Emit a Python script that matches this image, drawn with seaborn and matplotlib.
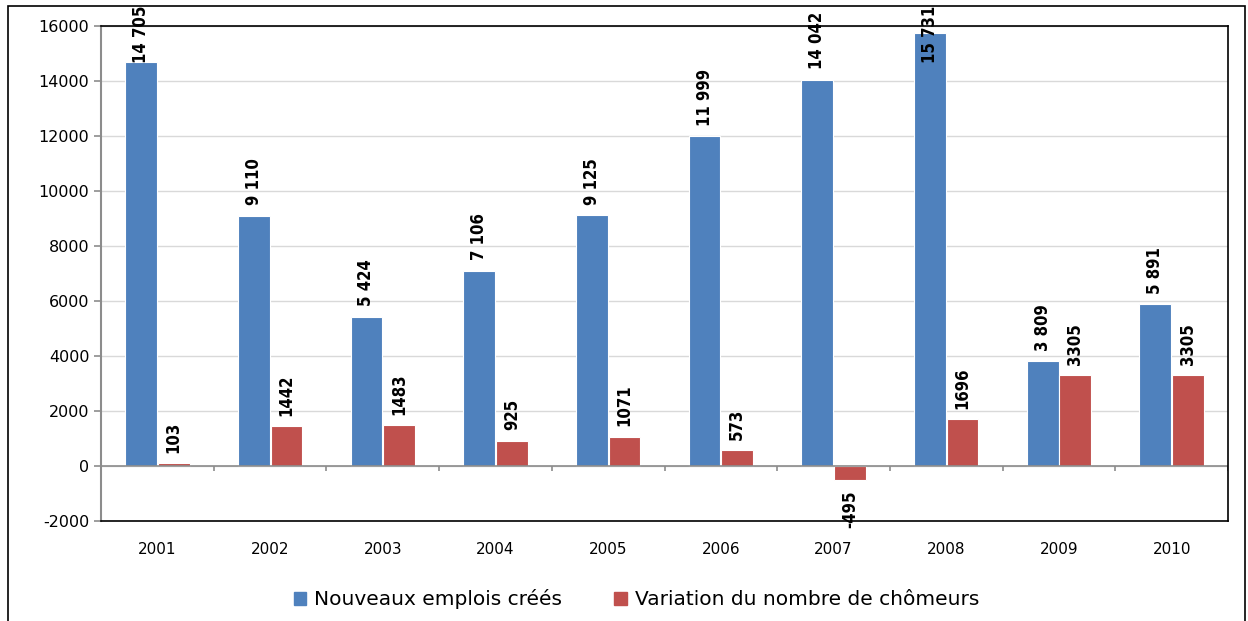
import matplotlib
matplotlib.use("Agg")
import matplotlib.pyplot as plt
import matplotlib.patches as mpatches
import seaborn as sns
import pandas as pd
import numpy as np

annees = ['2001', '2002', '2003', '2004', '2005', '2006', '2007', '2008', '2009', '2010']
emplois = [14705, 9110, 5424, 7106, 9125, 11999, 14042, 15731, 3809, 5891]
chomeurs = [103, 1442, 1483, 925, 1071, 573, -495, 1696, 3305, 3305]
series = ['Nouveaux emplois créés', 'Variation du nombre de chômeurs']
couleurs = ['#4F81BD', '#C0504D']

df = pd.DataFrame({
    'annee': annees * 2,
    'valeur': emplois + chomeurs,
    'serie': [series[0]] * len(annees) + [series[1]] * len(annees),
})

sns.set_style("white")
plt.rcParams['font.family'] = ['DejaVu Sans']
plt.rcParams['axes.unicode_minus'] = False

fig = plt.figure(figsize=(12.48, 6.21), dpi=100)
ax = fig.add_axes([0.081, 0.161, 0.903, 0.797])

sns.barplot(data=df, x='annee', y='valeur', hue='serie', palette=couleurs,
            width=0.58, gap=0.03, ax=ax, edgecolor='white', linewidth=0.8,
            saturation=1, legend=False)

ax.set_ylim(-2000, 16000)
ax.set_yticks(range(-2000, 16001, 2000))
ax.set_xlim(-0.5, len(annees) - 0.5)
ax.yaxis.grid(True, color='#d9d9d9', linewidth=1)
ax.set_axisbelow(True)
ax.axhline(0, color='#8c8c8c', linewidth=1.2, zorder=1)
ax.vlines(np.arange(-0.5, len(annees)), -180, 0, color='#8c8c8c', linewidth=1.2)

for side in ['top', 'right', 'bottom']:
    ax.spines[side].set_color('black')
    ax.spines[side].set_linewidth(1.2)
ax.spines['left'].set_color('#8c8c8c')
ax.spines['left'].set_linewidth(1.5)

ax.tick_params(axis='x', length=0, pad=15, labelsize=11, labelcolor='black')
ax.tick_params(axis='y', length=5, width=1.2, color='#8c8c8c', direction='out',
               labelsize=11.5, labelcolor='black', left=True)
ax.set_xlabel('')
ax.set_ylabel('')

# étiquettes de données
lab_font = dict(family='DejaVu Sans', fontstretch='condensed', fontweight='bold',
                fontsize=12, rotation=90, color='black')
for cont, vals, sep in zip(ax.containers, [emplois, chomeurs], [True, False]):
    for bar, v in zip(cont, vals):
        x = bar.get_x() + bar.get_width() / 2
        txt = f'{v:,}'.replace(',', ' ') if sep else str(v)
        if v >= 0:
            ax.text(x, min(v + 380, 14650), txt, ha='center', va='bottom', clip_on=False, **lab_font)
        else:
            ax.text(x, v - 400, txt, ha='center', va='top', clip_on=False, **lab_font)

handles = [mpatches.Patch(color=c, label=s) for c, s in zip(couleurs, series)]
leg = fig.legend(handles=handles, loc='center', bbox_to_anchor=(0.51, 0.035), ncol=2,
                 frameon=False, fontsize=14.5, handlelength=0.6, handleheight=0.6,
                 handletextpad=0.4, columnspacing=2.6)
for t in leg.get_texts():
    t.set_color('black')

# cadre extérieur
fig.patches.append(mpatches.Rectangle((8 / 1248, -0.05), (1245 - 8) / 1248, 1.05 - 6 / 621,
                                      transform=fig.transFigure, fill=False,
                                      edgecolor='black', linewidth=1.2))

fig.savefig('out.png', dpi=100)
